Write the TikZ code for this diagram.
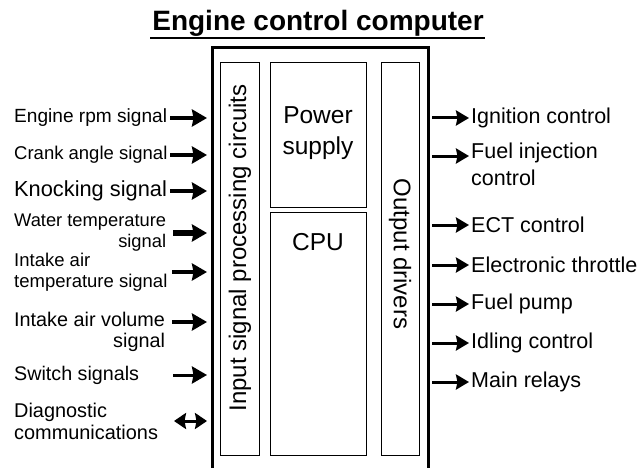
\documentclass[tikz,border=0pt]{standalone}
\usepackage{fontspec}
\setmainfont{Liberation Sans}
\usetikzlibrary{arrows.meta}

\begin{document}
\begin{tikzpicture}[x=1pt,y=-1pt]
      \tikzstyle{blk}=[draw,line width=0.8pt,inner sep=0pt];
      \tikzstyle{lbl}=[anchor=west,inner sep=0pt];
      \tikzstyle{lblR}=[anchor=west,inner sep=0pt,align=left,font=\fontsize{21.5}{27}\selectfont];
      \tikzstyle{inarr}=[line width=3.5pt,-{Stealth[length=15pt,width=17pt,inset=1.5pt]}];
      \tikzstyle{outarr}=[line width=3pt,-{Stealth[length=13pt,width=15pt,inset=1.5pt]}];
      \useasboundingbox (0,0) rectangle (642,468);
      % title
      \node[anchor=base,font=\bfseries\fontsize{28}{30}\selectfont] (title) at (318,31) {Engine control computer};
      \draw[line width=2.4pt] (150,38) -- (485,38);
      % computer, open at the bottom
      \draw[line width=3pt] (212,470) -- (212,48) -- (428,48) -- (428,470);
      \node[blk,minimum width=39pt,minimum height=393pt] (isp) at (239.5,258.5) {};
      \node[blk,minimum width=96pt,minimum height=145pt] (pwr) at (318,134.5) {};
      \node[blk,minimum width=96pt,minimum height=243pt] (cpu) at (318,333.5) {};
      \node[blk,minimum width=38pt,minimum height=393pt] (drv) at (400,258.5) {};
      \node[rotate=90,font=\fontsize{24}{26}\selectfont] (isptxt) at (240,248) {Input signal processing circuits};
      \node[rotate=-90,font=\fontsize{24}{26}\selectfont] (drvtxt) at (400,254) {Output drivers};
      \node[align=center,font=\fontsize{24.5}{31}\selectfont] (pwrtxt) at (318,133) {Power\\supply};
      \node[font=\fontsize{24.5}{26}\selectfont] (cputxt) at (318,242) {CPU};
      % inputs
      \node[lbl,font=\fontsize{19.1}{22}\selectfont] (rpm) at (14,118) {Engine rpm signal};
      \node[lbl,font=\fontsize{18.5}{22}\selectfont] (crank) at (14,155) {Crank angle signal};
      \node[lbl,font=\fontsize{21.8}{22}\selectfont] (knock) at (14,191) {Knocking signal};
      \node[lbl,align=right,font=\fontsize{18.3}{21}\selectfont] (water) at (14,233) {Water temperature\\signal};
      \node[lbl,align=left,font=\fontsize{18.5}{21}\selectfont] (iat) at (14,272) {Intake air\\temperature signal};
      \node[lbl,align=right,font=\fontsize{19.8}{21}\selectfont] (iav) at (14,332) {Intake air volume\\signal};
      \node[lbl,font=\fontsize{19.7}{22}\selectfont] (sw) at (14,375) {Switch signals};
      \node[lbl,align=left,font=\fontsize{19.9}{22}\selectfont] (diag) at (14,421) {Diagnostic\\communications};
      \coordinate (inl) at (207,0);
      \coordinate (a1) at (170,118); \coordinate (a2) at (170,155); \coordinate (a3) at (170,191);
      \coordinate (a4) at (173,233); \coordinate (a5) at (172,272); \coordinate (a6) at (172,322);
      \coordinate (a7) at (173,375); \coordinate (a8) at (174,421);
      \draw[inarr] (a1) -- (a1 -| inl); \draw[inarr] (a2) -- (a2 -| inl); \draw[inarr] (a3) -- (a3 -| inl);
      \draw[inarr,line width=5.5pt] (a4) -- (a4 -| inl); \draw[inarr] (a5) -- (a5 -| inl);
      \draw[inarr] (a6) -- (a6 -| inl); \draw[inarr,line width=3pt] (a7) -- (a7 -| inl);
      \draw[line width=3pt,{Stealth[length=12pt,width=16pt,inset=1.5pt]}-{Stealth[length=12pt,width=16pt,inset=1.5pt]}] (a8) -- (a8 -| inl);
      % outputs
      \node[lblR] (ign) at (471,118) {Ignition control};
      \node[lblR,anchor=north west] (fuel) at (471,143) {Fuel injection\\control};
      \node[lblR] (ect) at (471,225) {ECT control};
      \node[lblR] (thr) at (471,265) {Electronic throttle};
      \node[lblR] (pump) at (471,304) {Fuel pump};
      \node[lblR] (idle) at (471,343) {Idling control};
      \node[lblR] (relay) at (471,382) {Main relays};
      \coordinate (outl) at (469,0);
      \coordinate (b1) at (432,118); \coordinate (b2) at (432,156); \coordinate (b3) at (432,225);
      \coordinate (b4) at (432,265); \coordinate (b5) at (432,304); \coordinate (b6) at (432,343);
      \coordinate (b7) at (432,382);
      \draw[outarr] (b1) -- (b1 -| outl); \draw[outarr] (b2) -- (b2 -| outl); \draw[outarr] (b3) -- (b3 -| outl);
      \draw[outarr] (b4) -- (b4 -| outl); \draw[outarr] (b5) -- (b5 -| outl); \draw[outarr] (b6) -- (b6 -| outl);
      \draw[outarr] (b7) -- (b7 -| outl);
\end{tikzpicture}
\end{document}
